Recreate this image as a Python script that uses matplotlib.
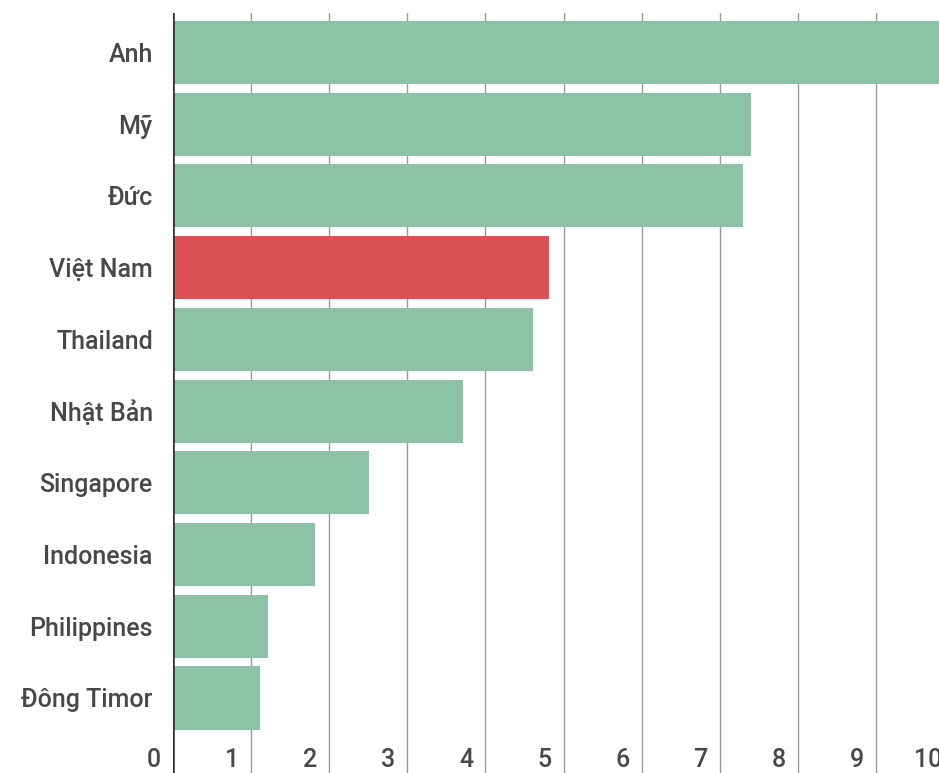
import matplotlib
matplotlib.use("Agg")
import matplotlib.pyplot as plt
from matplotlib.transforms import blended_transform_factory, ScaledTranslation

countries = ["Anh", "Mỹ", "Đức", "Việt Nam", "Thailand", "Nhật Bản",
             "Singapore", "Indonesia", "Philippines", "Đông Timor"]
values = [10.0, 7.40, 7.30, 4.81, 4.61, 3.71, 2.51, 1.82, 1.21, 1.11]
highlight = "Việt Nam"
xticks = list(range(0, 11))

GREEN = "#8cc3a6"
RED = "#dc5254"
TEXT = "#484848"

plt.rcParams['font.family'] = ['Roboto', 'DejaVu Sans']

W, H = 939, 773
fig = plt.figure(figsize=(W / 100, H / 100), dpi=100)
ax = fig.add_axes([173 / W, 0, 1 - 173 / W, 1 - 13 / H])

ypos = list(range(len(countries)))
colors = [RED if c == highlight else GREEN for c in countries]
ax.barh(ypos, values, height=0.88, color=colors, zorder=2)

ax.set_xlim(0, (W - 173) / 78.1)
ax.set_ylim(len(countries) - 1 + 1.046, -0.55)

for x in xticks[1:]:
    ax.axvline(x, color="#9a9a9a", lw=1.0, zorder=1)
ax.axvline(0, color="#333333", lw=2.6, zorder=3)

ax.set_yticks(ypos)
ax.set_yticklabels(countries, fontsize=18, color=TEXT, fontweight="medium")
ax.tick_params(axis="y", length=0, pad=14.5)
ax.set_xticks([])

for s in ax.spines.values():
    s.set_visible(False)

trans = blended_transform_factory(ax.transData, ax.transData) + \
    ScaledTranslation(-12 / 100, 0, fig.dpi_scale_trans)
label_y = len(countries) - 1 + 0.865
for x in xticks:
    ax.text(x, label_y, str(x), transform=trans, ha="right", va="center",
            fontsize=18, color=TEXT, fontweight="medium", clip_on=False)

fig.savefig("out.png", dpi=100)
